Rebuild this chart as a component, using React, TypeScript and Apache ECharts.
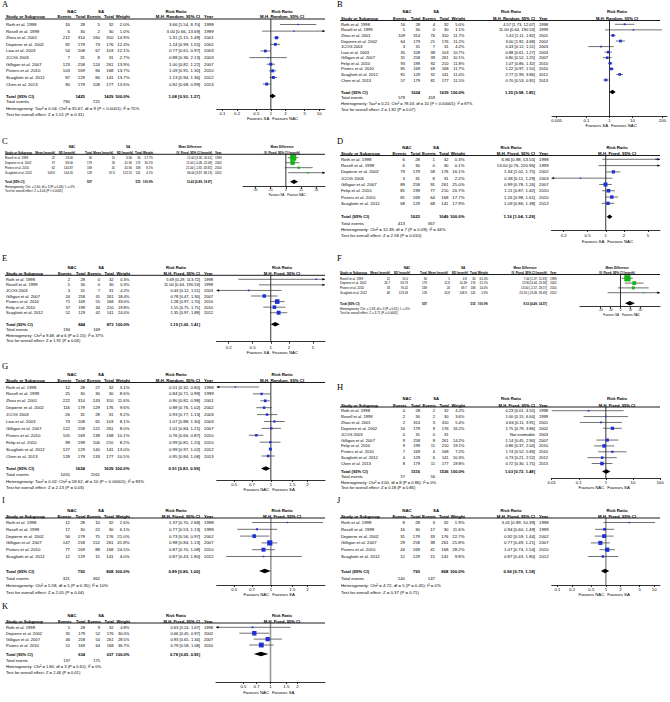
import React, { useEffect, useRef } from "react";
import * as echarts from "echarts";

// ================= DATA =================
// Risk-ratio rows: [study, NAC events, NAC total, SA events, SA total, weight %, RR, CI low, CI high, year]
const A_rows: any[] = [
  ["Roth et al. 1998", 16, 28, 5, 32, 2.0, 3.66, 1.54, 8.7, 1998],
  ["Rosell et al. 1999", 6, 30, 2, 30, 1.0, 3.0, 0.66, 13.69, 1999],
  ["Zhou et al. 2001", 212, 314, 160, 310, 14.9, 1.31, 1.15, 1.49, 2001],
  ["Depierre et al. 2002", 92, 179, 73, 176, 12.4, 1.24, 0.99, 1.55, 2002],
  ["Liao et al. 2003", 54, 108, 67, 103, 12.1, 0.77, 0.61, 0.97, 2003],
  ["JCOG 2003", 7, 31, 8, 31, 2.7, 0.88, 0.36, 2.13, 2003],
  ["Gilligan et al. 2007", 123, 258, 124, 261, 13.9, 1.0, 0.82, 1.22, 2007],
  ["Pisters et al. 2010", 103, 169, 94, 168, 13.7, 1.09, 0.91, 1.3, 2010],
  ["Scagliotti et al. 2012", 87, 129, 84, 141, 13.7, 1.13, 0.94, 1.36, 2012],
  ["Chen et al. 2013", 90, 179, 108, 177, 13.6, 0.82, 0.68, 0.99, 2013],
];
const A_total = [1.08, 0.93, 1.27];
const A_stats = [
  "Heterogeneity: Tau² = 0.04; Chi² = 35.67, df = 9 (P < 0.0001); I² = 75%",
  "Test for overall effect: Z = 1.01 (P = 0.31)",
];

const B_rows: any[] = [
  ["Roth et al. 1998", 16, 28, 4, 32, 5.0, 4.57, 1.73, 12.07, 1998],
  ["Rosell et al. 1999", 5, 30, 0, 30, 1.1, 11.0, 0.64, 190.53, 1999],
  ["Zhou et al. 2001", 109, 314, 76, 310, 11.7, 1.42, 1.11, 1.82, 2001],
  ["Depierre et al. 2002", 64, 179, 21, 176, 11.2, 3.0, 1.92, 4.68, 2002],
  ["JCOG 2003", 3, 31, 7, 31, 4.2, 0.43, 0.12, 1.51, 2003],
  ["Liao et al. 2003", 35, 108, 38, 103, 10.7, 0.88, 0.61, 1.27, 2003],
  ["Gilligan et al. 2007", 31, 258, 39, 261, 10.1, 0.8, 0.52, 1.25, 2007],
  ["Felip et al. 2010", 93, 199, 92, 210, 11.8, 1.07, 0.86, 1.32, 2010],
  ["Pisters et al. 2010", 85, 169, 69, 168, 11.7, 1.22, 0.97, 1.55, 2010],
  ["Scagliotti et al. 2012", 81, 129, 32, 141, 11.0, 2.77, 1.99, 3.86, 2012],
  ["Chen et al. 2013", 57, 179, 81, 177, 11.5, 0.7, 0.53, 0.91, 2013],
];
const B_total = [1.35, 0.98, 1.85];
const B_stats = [
  "Heterogeneity: Tau² = 0.21; Chi² = 78.03, df = 10 (P < 0.00001); I² = 87%",
  "Test for overall effect: Z = 1.82 (P = 0.07)",
];

// Mean-difference rows: [study, NAC mean, NAC SD, NAC total, SA mean, SA SD, SA total, weight %, MD, CI low, CI high, year]
const C_rows: any[] = [
  ["Rosell et al. 1999", "22", "23.00", 30, "10", "6.90", 30, 57.7, 12.0, 3.39, 20.61, 1999],
  ["Depierre et al. 2002", "37", "69.00", 179, "26", "41.90", 176, 30.1, 11.0, -0.08, 22.08, 2002],
  ["Pisters et al. 2010", "62", "144.87", 169, "41", "45.90", 168, 8.1, 21.0, -1.82, 43.82, 2010],
  ["Scagliotti et al. 2012", "103.6", "144.05", 129, "67.6", "122.52", 141, 4.1, 36.0, 3.87, 68.13, 2012],
];
const C_total = [13.43, 6.89, 19.97];
const C_stats = [
  "Heterogeneity: Chi² = 2.60, df = 3 (P = 0.46); I² = 0%",
  "Test for overall effect: Z = 4.04 (P < 0.0001)",
];

const D_rows: any[] = [
  ["Roth et al. 1998", 6, 28, 1, 32, 0.3, 6.86, 0.88, 53.55, 1998],
  ["Rosell et al. 1999", 6, 30, 0, 30, 0.1, 13.0, 0.76, 220.96, 1999],
  ["Depierre et al. 2002", 79, 179, 58, 176, 16.1, 1.34, 1.02, 1.75, 2002],
  ["JCOG 2003", 3, 31, 8, 31, 2.2, 0.38, 0.11, 1.29, 2003],
  ["Gilligan et al. 2007", 89, 258, 91, 261, 25.0, 0.99, 0.78, 1.26, 2007],
  ["Felip et al. 2010", 81, 199, 77, 210, 20.7, 1.11, 0.87, 1.42, 2010],
  ["Pisters et al. 2010", 81, 169, 64, 168, 17.7, 1.26, 0.98, 1.61, 2010],
  ["Scagliotti et al. 2012", 68, 129, 68, 141, 17.9, 1.09, 0.86, 1.38, 2012],
];
const D_total = [1.16, 1.04, 1.29];
const D_stats = [
  "Heterogeneity: Chi² = 12.49, df = 7 (P = 0.09); I² = 44%",
  "Test for overall effect: Z = 2.58 (P = 0.010)",
];

const E_rows: any[] = [
  ["Roth et al. 1998", 2, 28, 0, 32, 0.3, 5.69, 0.29, 113.72, 1998],
  ["Rosell et al. 1999", 5, 30, 0, 30, 0.3, 11.0, 0.64, 190.53, 1999],
  ["JCOG 2003", 3, 31, 7, 31, 4.2, 0.43, 0.12, 1.51, 2003],
  ["Gilligan et al. 2007", 24, 258, 31, 261, 18.4, 0.78, 0.47, 1.3, 2007],
  ["Pisters et al. 2010", 71, 169, 55, 168, 33.0, 1.28, 0.97, 1.7, 2010],
  ["Felip et al. 2010", 37, 199, 34, 210, 19.8, 1.15, 0.75, 1.75, 2010],
  ["Scagliotti et al. 2012", 52, 129, 42, 141, 24.0, 1.35, 0.97, 1.88, 2012],
];
const E_total = [1.19, 1.0, 1.41];
const E_stats = [
  "Heterogeneity: Chi² = 9.48, df = 6 (P = 0.15); I² = 37%",
  "Test for overall effect: Z = 1.91 (P = 0.06)",
];

const F_rows: any[] = [
  ["Rosell et al. 1999", "12", "15.0", 30, "5", "4.8", 30, 61.0, 7.0, 1.37, 12.63, 1999],
  ["Depierre et al. 2002", "26.7", "63.73", 179, "12.8", "10.49", 176, 22.1, 13.9, 4.44, 23.36, 2002],
  ["Pisters et al. 2010", "33", "76.02", 169, "20", "69.7", 168, 14.0, 13.0, -2.57, 28.57, 2010],
  ["Scagliotti et al. 2012", "48", "123.59", 129, "24.8", "108.9", 141, 2.9, 23.2, -13.09, 59.49, 2012],
];
const F_total = [9.53, 4.49, 14.57];
const F_stats = [
  "Heterogeneity: Chi² = 1.83, df = 3 (P = 0.61); I² = 0%",
  "Test for overall effect: Z = 3.71 (P = 0.0002)",
];

const G_rows: any[] = [
  ["Roth et al. 1998", 12, 28, 27, 32, 3.1, 0.51, 0.32, 0.8, 1998],
  ["Rosell et al. 1999", 25, 30, 30, 30, 8.6, 0.84, 0.71, 0.99, 1999],
  ["Zhou et al. 2001", 222, 314, 243, 310, 11.6, 0.9, 0.82, 0.98, 2001],
  ["Depierre et al. 2002", 116, 179, 129, 176, 9.6, 0.88, 0.76, 1.02, 2002],
  ["JCOG 2003", 26, 31, 28, 31, 9.2, 0.93, 0.77, 1.13, 2003],
  ["Liao et al. 2003", 73, 108, 65, 103, 8.1, 1.07, 0.88, 1.3, 2003],
  ["Gilligan et al. 2007", 122, 258, 122, 261, 8.0, 1.01, 0.84, 1.21, 2007],
  ["Pisters et al. 2010", 105, 169, 138, 168, 10.1, 0.76, 0.66, 0.87, 2010],
  ["Felip et al. 2010", 99, 199, 106, 210, 8.2, 0.99, 0.81, 1.2, 2010],
  ["Scagliotti et al. 2012", 127, 129, 140, 141, 13.0, 0.99, 0.97, 1.02, 2012],
  ["Chen et al. 2013", 128, 179, 133, 177, 10.5, 0.95, 0.84, 1.08, 2013],
];
const G_total = [0.91, 0.83, 0.99];
const G_stats = [
  "Heterogeneity: Tau² = 0.02; Chi² = 58.62, df = 10 (P < 0.00001); I² = 83%",
  "Test for overall effect: Z = 2.13 (P = 0.03)",
];

const H_rows: any[] = [
  ["Roth et al. 1998", 0, 28, 2, 32, 4.2, 0.23, 0.01, 4.55, 1998],
  ["Rosell et al. 1999", 2, 30, 2, 30, 3.6, 1.0, 0.15, 6.64, 1999],
  ["Zhou et al. 2001", 2, 314, 3, 310, 5.4, 0.66, 0.11, 3.91, 2001],
  ["Depierre et al. 2002", 16, 179, 9, 176, 16.2, 1.75, 0.79, 3.86, 2002],
  ["JCOG 2003", 0, 31, 0, 31, null, null, null, null, 2003],
  ["Gilligan et al. 2007", 9, 258, 8, 261, 14.2, 1.14, 0.45, 2.9, 2007],
  ["Felip et al. 2010", 9, 199, 11, 210, 19.1, 0.86, 0.37, 2.04, 2010],
  ["Pisters et al. 2010", 7, 169, 4, 168, 7.2, 1.74, 0.52, 5.83, 2010],
  ["Scagliotti et al. 2012", 4, 129, 6, 141, 10.3, 0.73, 0.21, 2.52, 2012],
  ["Chen et al. 2013", 8, 179, 11, 177, 19.8, 0.72, 0.3, 1.75, 2013],
];
const H_total = [1.03, 0.72, 1.48];
const H_stats = [
  "Heterogeneity: Chi² = 4.00, df = 8 (P = 0.86); I² = 0%",
  "Test for overall effect: Z = 0.18 (P = 0.86)",
];

const I_rows: any[] = [
  ["Roth et al. 1998", 12, 28, 10, 32, 2.6, 1.37, 0.7, 2.68, 1998],
  ["Rosell et al. 1999", 17, 30, 22, 30, 6.1, 0.77, 0.53, 1.13, 1999],
  ["Depierre et al. 2002", 56, 179, 75, 176, 21.0, 0.73, 0.56, 0.97, 2002],
  ["Gilligan et al. 2007", 147, 258, 152, 261, 41.8, 0.98, 0.84, 1.13, 2007],
  ["Pisters et al. 2010", 77, 169, 88, 168, 24.5, 0.87, 0.7, 1.08, 2010],
  ["Scagliotti et al. 2012", 12, 129, 15, 141, 4.0, 0.87, 0.43, 1.8, 2012],
];
const I_total = [0.89, 0.8, 1.0];
const I_stats = [
  "Heterogeneity: Chi² = 5.58, df = 5 (P = 0.35); I² = 10%",
  "Test for overall effect: Z = 2.05 (P = 0.04)",
];

const J_rows: any[] = [
  ["Roth et al. 1998", 8, 28, 3, 32, 1.9, 3.05, 0.89, 10.39, 1998],
  ["Rosell et al. 1999", 16, 30, 17, 30, 11.6, 0.94, 0.6, 1.49, 1999],
  ["Depierre et al. 2002", 31, 179, 33, 176, 22.7, 0.92, 0.59, 1.44, 2002],
  ["Gilligan et al. 2007", 29, 258, 38, 261, 25.8, 0.77, 0.49, 1.21, 2007],
  ["Pisters et al. 2010", 44, 169, 41, 168, 28.2, 1.07, 0.74, 1.54, 2010],
  ["Scagliotti et al. 2012", 12, 129, 15, 141, 9.8, 0.87, 0.43, 1.8, 2012],
];
const J_total = [0.96, 0.79, 1.18];
const J_stats = [
  "Heterogeneity: Chi² = 4.72, df = 5 (P = 0.45); I² = 0%",
  "Test for overall effect: Z = 0.37 (P = 0.71)",
];

const K_rows: any[] = [
  ["Roth et al. 1998", 5, 28, 9, 32, 4.8, 0.63, 0.24, 1.67, 1998],
  ["Depierre et al. 2002", 35, 179, 52, 176, 30.0, 0.66, 0.45, 0.97, 2002],
  ["Gilligan et al. 2007", 46, 258, 50, 261, 28.5, 0.93, 0.65, 1.34, 2007],
  ["Pisters et al. 2010", 51, 169, 64, 168, 36.7, 0.79, 0.58, 1.08, 2010],
];
const K_total = [0.78, 0.65, 0.95];
const K_stats = [
  "Heterogeneity: Chi² = 1.84, df = 3 (P = 0.61); I² = 0%",
  "Test for overall effect: Z = 2.46 (P = 0.01)",
];

// axis tick labels
const TICKS_01_10 = [0.1, 0.2, 0.5, 1, 2, 5, 10];
const TICKS_B = [0.005, 0.1, 1, 10, 200];
const TICKS_02_5 = [0.2, 0.5, 1, 2, 5];
const TICKS_05_2 = [0.5, 0.7, 1, 1.5, 2];
const TICKS_H = [0.01, 0.1, 1, 10, 100];
const TICKS_C = [-50, -25, 0, 25, 50];
const TICKS_F = [-20, -10, 0, 10, 20];

const FAV_SA_NAC = ["Favours SA", "Favours NAC"];
const FAV_NAC_SA = ["Favours NAC", "Favours SA"];

// ================= LAYOUT (pixels) =================
const FONT = "'Liberation Sans', Arial, Helvetica, sans-serif";
const SERIF = "'Liberation Serif', 'Times New Roman', serif";

const LAY: Record<string, any> = {
  A: { ox: 0, label: 4, grp: 11, hdr: 16.7, ul: 19, row0: 24.5, sp: 6.62, total: 96, ev: 101.6, het: 108, test: 114.4, axis: 109, tick: 113.3, fav: 118, fs: 4.3, axL: 216.7, axR: 325, min: -1.12, max: 1.12 },
  B: { ox: 335, label: 4, grp: 11.7, hdr: 18.3, ul: 20.5, row0: 24.3, sp: 5.57, total: 92, ev: 97.7, het: 103.3, test: 109, axis: 116, tick: 120.5, fav: 125.5, fs: 4.1, axL: 217, axR: 332, min: -2.5, max: 2.5 },
  C: { ox: 0, label: 141, grp: 146.7, hdr: 152.5, ul: 154.3, row0: 157.7, sp: 5, total: 181.7, ev: null, het: 186.7, test: 190.7, axis: 186.7, tick: 190.7, fav: 195, fs: 3, axL: 243, axR: 325, min: -70, max: 64 },
  D: { ox: 335, label: 141, grp: 147.7, hdr: 153.3, ul: 155.5, row0: 159.3, sp: 6.29, total: 216.7, ev: 223.3, het: 229.3, test: 235.7, axis: 230, tick: 236, fav: 241.5, fs: 4.3, axL: 216.5, axR: 325, min: -0.9, max: 0.9 },
  E: { ox: 0, label: 258, grp: 267.7, hdr: 273.3, ul: 275.3, row0: 279.3, sp: 5.57, total: 324.3, ev: 329.3, het: 335, test: 340.3, axis: 341.7, tick: 347.3, fav: 352.3, fs: 4.1, axL: 216.5, axR: 325, min: -0.9, max: 0.9 },
  F: { ox: 335, label: 258, grp: 267.7, hdr: 272.7, ul: 274.5, row0: 278.3, sp: 4.8, total: 303.3, ev: null, het: 308.3, test: 312.7, axis: 306.7, tick: 310.5, fav: 315, fs: 3, axL: 245, axR: 325, min: -41, max: 40 },
  G: { ox: 0, label: 366, grp: 374.5, hdr: 380.5, ul: 382.5, row0: 387, sp: 6.9, total: 468.5, ev: 474.8, het: 481.3, test: 487.5, axis: 480, tick: 485, fav: 489.5, fs: 4.3, axL: 216.7, axR: 325, min: -0.445, max: 0.445 },
  H: { ox: 335, label: 387, grp: 398.3, hdr: 405, ul: 407, row0: 410.7, sp: 5.87, total: 471.5, ev: 476.8, het: 482, test: 487.5, axis: 478, tick: 483, fav: 487.5, fs: 4.1, axL: 216.7, axR: 325, min: -2, max: 2 },
  I: { ox: 0, label: 500, grp: 510, hdr: 516, ul: 518, row0: 522.5, sp: 6.8, total: 571, ev: 578, het: 585.5, test: 592, axis: 585, tick: 590, fav: 594.5, fs: 4.3, axL: 216.7, axR: 325, min: -0.445, max: 0.445 },
  J: { ox: 335, label: 500, grp: 510, hdr: 516, ul: 518, row0: 522.5, sp: 6.8, total: 571, ev: 578, het: 585.5, test: 592, axis: 585, tick: 590, fav: 594.5, fs: 4.3, axL: 216.7, axR: 325, min: -1.12, max: 1.12 },
  K: { ox: 0, label: 606, grp: 615, hdr: 621, ul: 623, row0: 627.3, sp: 5.9, total: 654, ev: 660, het: 666, test: 672.3, axis: 682, tick: 687, fav: 692, fs: 4.1, axL: 216, axR: 325, min: -0.607, max: 0.607 },
};

const PANELS: any[] = [
  { id: "A", kind: "rr", rows: A_rows, total: A_total, stats: A_stats, ticks: TICKS_01_10, fav: FAV_SA_NAC, method: "M-H, Random, 95% CI", ref: "#000" },
  { id: "B", kind: "rr", rows: B_rows, total: B_total, stats: B_stats, ticks: TICKS_B, fav: FAV_SA_NAC, method: "M-H, Random, 95% CI", ref: "#000" },
  { id: "C", kind: "md", rows: C_rows, total: C_total, stats: C_stats, ticks: TICKS_C, fav: FAV_SA_NAC, method: "IV, Fixed, 95% CI [month]", ref: "#000" },
  { id: "D", kind: "rr", rows: D_rows, total: D_total, stats: D_stats, ticks: TICKS_02_5, fav: FAV_SA_NAC, method: "M-H, Fixed, 95% CI", ref: "#000" },
  { id: "E", kind: "rr", rows: E_rows, total: E_total, stats: E_stats, ticks: TICKS_02_5, fav: FAV_SA_NAC, method: "M-H, Fixed, 95% CI", ref: "#000" },
  { id: "F", kind: "md", rows: F_rows, total: F_total, stats: F_stats, ticks: TICKS_F, fav: FAV_SA_NAC, method: "IV, Fixed, 95% CI [month]", ref: "#000" },
  { id: "G", kind: "rr", rows: G_rows, total: G_total, stats: G_stats, ticks: TICKS_05_2, fav: FAV_NAC_SA, method: "M-H, Random, 95% CI", ref: "#000" },
  { id: "H", kind: "rr", rows: H_rows, total: H_total, stats: H_stats, ticks: TICKS_H, fav: FAV_NAC_SA, method: "M-H, Fixed, 95% CI", ref: "#000" },
  { id: "I", kind: "rr", rows: I_rows, total: I_total, stats: I_stats, ticks: TICKS_05_2, fav: FAV_NAC_SA, method: "M-H, Fixed, 95% CI", ref: "#9a9a9a" },
  { id: "J", kind: "rr", rows: J_rows, total: J_total, stats: J_stats, ticks: TICKS_01_10, fav: FAV_NAC_SA, method: "M-H, Fixed, 95% CI", ref: "#9a9a9a" },
  { id: "K", kind: "rr", rows: K_rows, total: K_total, stats: K_stats, ticks: TICKS_05_2, fav: FAV_NAC_SA, method: "M-H, Fixed, 95% CI", ref: "#9a9a9a" },
];

// ================= HELPERS =================
function txt(x: number, y: number, text: string, fs: number, align = "left", bold = false, family = FONT) {
  return {
    type: "text",
    x,
    y,
    silent: true,
    z: 10,
    style: {
      text,
      fontSize: fs,
      fontFamily: family,
      fontWeight: bold ? "bold" : "normal",
      fill: "#000",
      align,
      verticalAlign: "middle",
      textAlign: align,
      textVerticalAlign: "middle",
    },
  };
}
function hline(x1: number, x2: number, y: number, w = 0.8) {
  return { type: "line", silent: true, z: 10, shape: { x1, y1: y, x2, y2: y }, style: { stroke: "#000", lineWidth: w } };
}
const f2 = (v: number) => v.toFixed(2);
const ciText = (e: number, l: number, h: number) => `${f2(e)} [${f2(l)}, ${f2(h)}]`;
const sum = (arr: any[], idx: number) => arr.reduce((s, r) => s + (r[idx] || 0), 0);

function makeRenderItem(color: string) {
  return (params: any, api: any) => {
    const est = api.value(0);
    const lo = api.value(1);
    const hi = api.value(2);
    const yi = api.value(3);
    const w = api.value(4);
    const kind = api.value(5);
    const cs = params.coordSys;
    const x0 = cs.x;
    const x1 = cs.x + cs.width;
    const pe = api.coord([est, yi]);
    const pl = api.coord([lo, yi]);
    const ph = api.coord([hi, yi]);
    const y = pe[1];
    const children: any[] = [];
    if (kind === 1) {
      const h = 2.3;
      children.push({
        type: "polygon",
        shape: { points: [[pl[0], y], [pe[0], y - h], [ph[0], y], [pe[0], y + h]] },
        style: { fill: "#000" },
      });
      return { type: "group", children };
    }
    const lx = Math.max(pl[0], x0);
    const hx = Math.min(ph[0], x1);
    children.push({ type: "line", shape: { x1: lx, y1: y, x2: hx, y2: y }, style: { stroke: "#333", lineWidth: 0.7 } });
    if (pl[0] < x0) {
      children.push({ type: "polygon", shape: { points: [[x0, y], [x0 + 2.6, y - 1.2], [x0 + 2.6, y + 1.2]] }, style: { fill: "#000" } });
    }
    if (ph[0] > x1) {
      children.push({ type: "polygon", shape: { points: [[x1, y], [x1 - 2.6, y - 1.2], [x1 - 2.6, y + 1.2]] }, style: { fill: "#000" } });
    }
    if (pe[0] >= x0 && pe[0] <= x1) {
      const s = Math.max(1.4, Math.sqrt(w / 100) * 8);
      children.push({ type: "rect", shape: { x: pe[0] - s / 2, y: y - s / 2, width: s, height: s }, style: { fill: color } });
    }
    return { type: "group", children };
  };
}

function buildOption() {
  const grid: any[] = [];
  const xAxis: any[] = [];
  const yAxis: any[] = [];
  const series: any[] = [];
  const g: any[] = [];

  PANELS.forEach((p, k) => {
    const L = LAY[p.id];
    const ox = L.ox;
    const fs = L.fs;
    const isMD = p.kind === "md";
    const tx = (v: number) => (isMD ? v : Math.log10(v));
    const rowY = (i: number) => L.row0 + i * L.sp;
    const yMin = (L.ul - L.row0) / L.sp;
    const yMax = (L.axis - L.row0) / L.sp;
    const totIdx = (L.total - L.row0) / L.sp;

    // ---- chart part ----
    grid.push({ left: ox + L.axL, top: L.ul, width: L.axR - L.axL, height: L.axis - L.ul, containLabel: false });
    const tv = p.ticks.map(tx);
    xAxis.push({
      type: "value",
      gridIndex: k,
      min: L.min,
      max: L.max,
      position: "bottom",
      axisLine: { show: true, onZero: false, lineStyle: { color: "#000", width: 0.8 } },
      axisTick: { show: true, length: 2, customValues: tv, lineStyle: { color: "#000", width: 0.8 } },
      axisLabel: {
        show: true,
        customValues: tv,
        fontSize: isMD ? 3 : 4.3,
        fontFamily: FONT,
        color: "#000",
        margin: Math.max(0.5, L.tick - L.axis - 2.3),
        formatter: (v: number) => {
          let best = p.ticks[0];
          let bd = Infinity;
          p.ticks.forEach((t: number) => {
            const d = Math.abs(tx(t) - v);
            if (d < bd) {
              bd = d;
              best = t;
            }
          });
          return String(best);
        },
      },
      splitLine: { show: false },
    });
    yAxis.push({ type: "value", gridIndex: k, inverse: true, min: yMin, max: yMax, show: false });

    // line of no effect
    series.push({
      type: "line",
      xAxisIndex: k,
      yAxisIndex: k,
      data: [
        [0, yMin],
        [0, yMax],
      ],
      symbol: "none",
      silent: true,
      z: 1,
      lineStyle: { color: p.ref, width: p.ref === "#000" ? 0.8 : 1.6 },
    });

    const data: any[] = [];
    p.rows.forEach((r: any[], i: number) => {
      const e = isMD ? r[8] : r[6];
      const l = isMD ? r[9] : r[7];
      const h = isMD ? r[10] : r[8];
      const w = isMD ? r[7] : r[5];
      if (e == null) return;
      data.push([tx(e), tx(l), tx(h), i, w, 0]);
    });
    data.push([tx(p.total[0]), tx(p.total[1]), tx(p.total[2]), totIdx, 100, 1]);
    series.push({
      type: "custom",
      xAxisIndex: k,
      yAxisIndex: k,
      coordinateSystem: "cartesian2d",
      clip: false,
      silent: true,
      z: 3,
      encode: { x: 0, y: 3 },
      data,
      renderItem: makeRenderItem(isMD ? "#12b312" : "#1f2fd6"),
    });

    // ---- text part ----
    g.push(txt(ox + 2, L.label, p.id, 8.5, "left", false, SERIF));
    const centerX = ox + L.axL + ((0 - L.min) / (L.max - L.min)) * (L.axR - L.axL);
    g.push(hline(ox + 5, ox + 325, L.ul, 0.9));

    if (!isMD) {
      g.push(txt(ox + 72, L.grp, "NAC", fs, "center", true));
      g.push(txt(ox + 101, L.grp, "SA", fs, "center", true));
      g.push(txt(ox + 176, L.grp, "Risk Ratio", fs, "center", true));
      g.push(txt(ox + 282, L.grp, "Risk Ratio", fs, "center", true));
      g.push(txt(ox + 6, L.hdr, "Study or Subgroup", fs, "left", true));
      g.push(txt(ox + 71.5, L.hdr, "Events", fs, "right", true));
      g.push(txt(ox + 85.5, L.hdr, "Total", fs, "right", true));
      g.push(txt(ox + 101, L.hdr, "Events", fs, "right", true));
      g.push(txt(ox + 114, L.hdr, "Total", fs, "right", true));
      g.push(txt(ox + 130, L.hdr, "Weight", fs, "right", true));
      g.push(txt(ox + 200, L.hdr, p.method, fs, "right", true));
      g.push(txt(ox + 204, L.hdr, "Year", fs, "left", true));
      g.push(txt(ox + 282, L.hdr, p.method, fs, "center", true));

      p.rows.forEach((r: any[], i: number) => {
        const y = rowY(i);
        g.push(txt(ox + 6, y, r[0], fs));
        g.push(txt(ox + 70, y, String(r[1]), fs, "right"));
        g.push(txt(ox + 85, y, String(r[2]), fs, "right"));
        g.push(txt(ox + 100, y, String(r[3]), fs, "right"));
        g.push(txt(ox + 113.5, y, String(r[4]), fs, "right"));
        if (r[5] != null) g.push(txt(ox + 129.5, y, r[5].toFixed(1) + "%", fs, "right"));
        g.push(txt(ox + 200, y, r[6] == null ? "Not estimable" : ciText(r[6], r[7], r[8]), fs, "right"));
        g.push(txt(ox + 204, y, String(r[9]), fs));
      });
      g.push(txt(ox + 6, L.total, "Total (95% CI)", fs, "left", true));
      g.push(txt(ox + 85, L.total, String(sum(p.rows, 2)), fs, "right", true));
      g.push(txt(ox + 113.5, L.total, String(sum(p.rows, 4)), fs, "right", true));
      g.push(txt(ox + 129.5, L.total, "100.0%", fs, "right", true));
      g.push(txt(ox + 200, L.total, ciText(p.total[0], p.total[1], p.total[2]), fs, "right", true));
      g.push(txt(ox + 6, L.ev, "Total events", fs));
      g.push(txt(ox + 70, L.ev, String(sum(p.rows, 1)), fs, "right"));
      g.push(txt(ox + 100, L.ev, String(sum(p.rows, 3)), fs, "right"));
    } else {
      g.push(txt(ox + 72, L.grp, "NAC", fs, "center", true));
      g.push(txt(ox + 128, L.grp, "SA", fs, "center", true));
      g.push(txt(ox + 190, L.grp, "Mean Difference", fs, "center", true));
      g.push(txt(ox + 282, L.grp, "Mean Difference", fs, "center", true));
      g.push(txt(ox + 5, L.hdr, "Study or Subgroup", fs, "left", true));
      g.push(txt(ox + 55, L.hdr, "Mean [month]", fs, "right", true));
      g.push(txt(ox + 75, L.hdr, "SD [month]", fs, "right", true));
      g.push(txt(ox + 92, L.hdr, "Total", fs, "right", true));
      g.push(txt(ox + 113, L.hdr, "Mean [month]", fs, "right", true));
      g.push(txt(ox + 133, L.hdr, "SD [month]", fs, "right", true));
      g.push(txt(ox + 142, L.hdr, "Total", fs, "right", true));
      g.push(txt(ox + 153, L.hdr, "Weight", fs, "right", true));
      g.push(txt(ox + 212, L.hdr, p.method, fs, "right", true));
      g.push(txt(ox + 215, L.hdr, "Year", fs, "left", true));
      g.push(txt(ox + 282, L.hdr, p.method, fs, "center", true));
      p.rows.forEach((r: any[], i: number) => {
        const y = rowY(i);
        g.push(txt(ox + 5, y, r[0], fs));
        g.push(txt(ox + 55, y, r[1], fs, "right"));
        g.push(txt(ox + 73, y, r[2], fs, "right"));
        g.push(txt(ox + 92, y, String(r[3]), fs, "right"));
        g.push(txt(ox + 115, y, r[4], fs, "right"));
        g.push(txt(ox + 132, y, r[5], fs, "right"));
        g.push(txt(ox + 140.5, y, String(r[6]), fs, "right"));
        g.push(txt(ox + 153, y, r[7].toFixed(1) + "%", fs, "right"));
        g.push(txt(ox + 212, y, ciText(r[8], r[9], r[10]), fs, "right"));
        g.push(txt(ox + 215, y, String(r[11]), fs));
      });
      g.push(txt(ox + 5, L.total, "Total (95% CI)", fs, "left", true));
      g.push(txt(ox + 92, L.total, String(sum(p.rows, 3)), fs, "right", true));
      g.push(txt(ox + 140.5, L.total, String(sum(p.rows, 6)), fs, "right", true));
      g.push(txt(ox + 153, L.total, "100.0%", fs, "right", true));
      g.push(txt(ox + 212, L.total, ciText(p.total[0], p.total[1], p.total[2]), fs, "right", true));
    }
    g.push(txt(ox + (isMD ? 5 : 6), L.het, p.stats[0], fs));
    g.push(txt(ox + (isMD ? 5 : 6), L.test, p.stats[1], fs));
    const ffs = isMD ? 3 : 4.3;
    g.push(txt(centerX - 1.5, L.fav, p.fav[0], ffs, "right"));
    g.push(txt(centerX + 1.5, L.fav, p.fav[1], ffs, "left"));
  });

  return {
    animation: false,
    backgroundColor: "#ffffff",
    grid,
    xAxis,
    yAxis,
    series,
    graphic: { elements: g },
  };
}

export default function App() {
  const ref = useRef<HTMLDivElement>(null);
  useEffect(() => {
    document.body.style.margin = "0";
    if (!ref.current) return;
    const chart = echarts.init(ref.current, undefined, { renderer: "svg" });
    chart.setOption(buildOption() as any);
    return () => {
      chart.dispose();
    };
  }, []);
  return <div ref={ref} style={{ width: 670, height: 702, background: "#fff" }} />;
}
